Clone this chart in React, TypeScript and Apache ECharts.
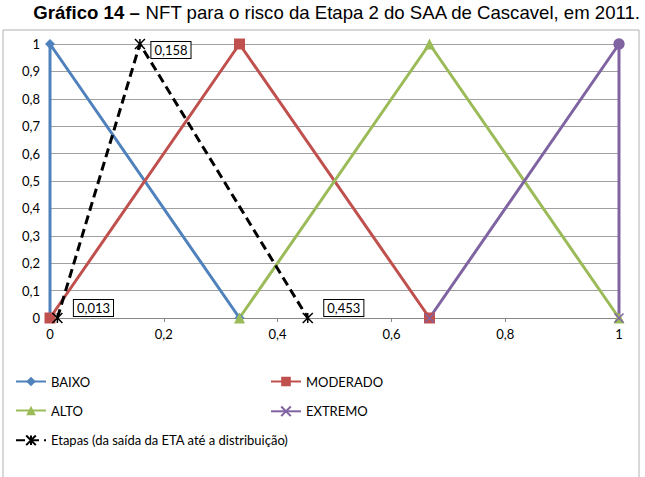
import React, { useEffect, useRef } from "react";
import * as echarts from "echarts";

const xTicks = [0, 0.2, 0.4, 0.6, 0.8, 1];
const baixo = [[0, 0], [0, 1], [0.333, 0]];
const moderado = [[0, 0], [0.333, 1], [0.667, 0]];
const alto = [[0.333, 0], [0.667, 1], [1, 0]];
const extremo = [[0.667, 0], [1, 1], [1, 0]];
const etapas = [[0.013, 0], [0.158, 1], [0.453, 0]];
const etapasLabels = ["0,013", "0,158", "0,453"];

const X_PATH = "path://M0,0L10,10M10,0L0,10";
const STAR_PATH = "path://M0,0L10,10M10,0L0,10M5,0L5,10";

export default function App() {
  const ref = useRef<HTMLDivElement>(null);
  useEffect(() => {
    const chart = echarts.init(ref.current!, null, { renderer: "svg" });
    const fmt = (v: number) => String(v).replace(".", ",");
    const labelFont = { fontFamily: "Lato, 'Open Sans', sans-serif", fontSize: 13, color: "#000" };
    const titleFont = "'Liberation Sans', Arial, sans-serif";
    chart.setOption({
      animation: false,
      textStyle: { fontFamily: "Lato, 'Open Sans', sans-serif" },
      graphic: [
        {
          type: "rect",
          shape: { x: 3, y: 30, width: 636, height: 460 },
          style: { fill: "none", stroke: "#b0b0b0", lineWidth: 1 },
          silent: true,
        },
        {
          type: "text",
          x: 337,
          y: 12,
          silent: true,
          style: {
            text: "{b|Gráfico 14 –} NFT para o risco da Etapa 2 do SAA de Cascavel, em 2011.",
            align: "center",
            verticalAlign: "middle",
            font: `normal 18.6px ${titleFont}`,
            fill: "#000",
            rich: { b: { fontFamily: titleFont, fontSize: 18.6, fontWeight: "bold", fill: "#000" } },
          },
        },
      ],
      grid: { left: 50, right: 26, top: 44, bottom: 159 },
      xAxis: {
        type: "value",
        min: 0,
        max: 1,
        interval: 0.2,
        axisLine: { show: true, lineStyle: { color: "#888" } },
        axisTick: { show: true, length: 4, lineStyle: { color: "#888" } },
        splitLine: { show: false },
        axisLabel: { ...labelFont, margin: 9, formatter: (v: number) => fmt(v) },
        data: xTicks,
      },
      yAxis: {
        type: "value",
        min: 0,
        max: 1,
        interval: 0.1,
        axisLine: { show: false },
        axisTick: { show: false },
        splitLine: { show: true, lineStyle: { color: "#a0a0a0" } },
        axisLabel: { ...labelFont, margin: 10, formatter: (v: number) => fmt(Math.round(v * 10) / 10) },
      },
      legend: [
        {
          left: 15,
          top: 375,
          orient: "vertical",
          padding: 0,
          itemGap: 16,
          itemWidth: 30,
          itemHeight: 12,
          textStyle: labelFont,
          data: ["BAIXO", "ALTO", "Etapas (da saída da ETA até a distribuição)"],
        },
        {
          left: 270,
          top: 375,
          orient: "vertical",
          padding: 0,
          itemGap: 16,
          itemWidth: 30,
          itemHeight: 12,
          textStyle: labelFont,
          data: ["MODERADO", "EXTREMO"],
        },
      ],
      series: [
        {
          name: "BAIXO",
          type: "line",
          data: baixo,
          symbol: "diamond",
          symbolSize: 10,
          lineStyle: { color: "#4F81BD", width: 3 },
          itemStyle: { color: "#4F81BD" },
        },
        {
          name: "MODERADO",
          type: "line",
          data: moderado,
          symbol: "rect",
          symbolSize: 11,
          lineStyle: { color: "#C0504D", width: 3 },
          itemStyle: { color: "#C0504D" },
        },
        {
          name: "ALTO",
          type: "line",
          data: alto,
          symbol: "triangle",
          symbolSize: 11,
          lineStyle: { color: "#9BBB59", width: 3 },
          itemStyle: { color: "#9BBB59" },
        },
        {
          name: "EXTREMO",
          type: "line",
          data: extremo.map((p, i) =>
            i === 1
              ? { value: p, symbol: "circle", symbolSize: 10, itemStyle: { color: "#8064A2", borderColor: "#8064A2" } }
              : { value: p }
          ),
          symbol: X_PATH,
          symbolSize: 9,
          lineStyle: { color: "#8064A2", width: 3 },
          itemStyle: { color: "none", borderColor: "#8064A2", borderWidth: 1.5 },
        },
        {
          name: "Etapas (da saída da ETA até a distribuição)",
          type: "line",
          data: etapas.map((p, i) => ({
            value: p,
            label: {
              show: true,
              position: "right",
              offset: i === 1 ? [-1, 6] : [4, -10],
              formatter: etapasLabels[i],
              ...labelFont,
              backgroundColor: "#fff",
              borderColor: "#000",
              borderWidth: 1,
              padding: [2, 3, 1, 3],
            },
          })),
          symbol: STAR_PATH,
          symbolSize: 10,
          z: 5,
          lineStyle: { color: "#000", width: 3, type: [9, 5] },
          itemStyle: { color: "none", borderColor: "#000", borderWidth: 1.5 },
        },
      ],
    });
    return () => chart.dispose();
  }, []);
  return <div ref={ref} style={{ width: 645, height: 477, position: "absolute", left: 0, top: 0 }} />;
}
